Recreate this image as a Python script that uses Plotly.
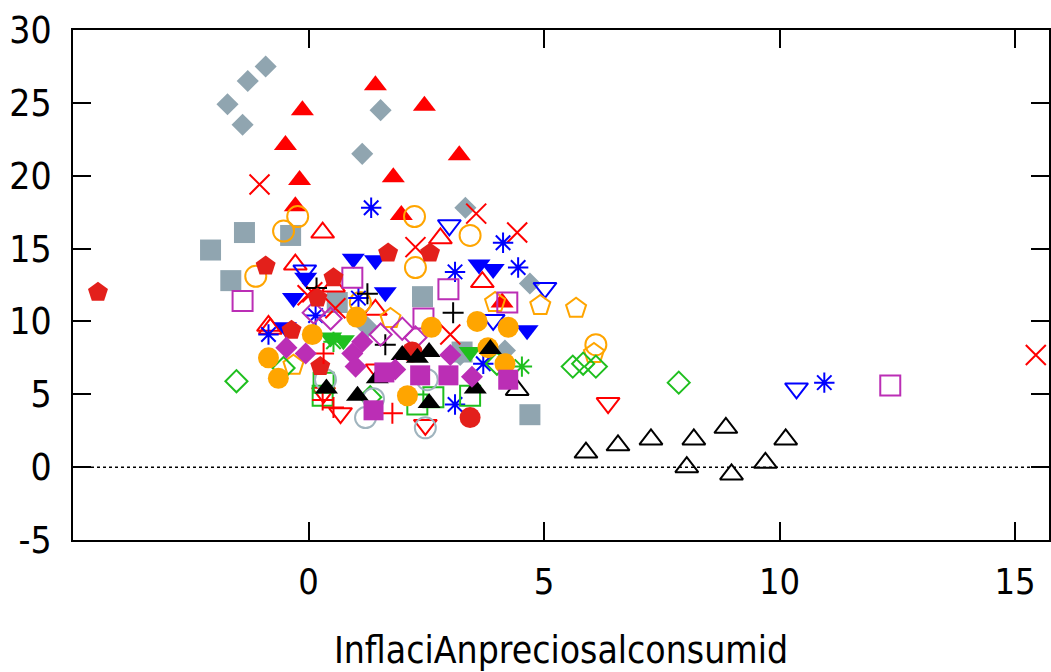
import plotly.graph_objects as go

# ---- data ----
gray_diamond_x = [-1.72, -1.29, -0.91, -1.40, 1.14, 1.53, 3.33, 4.70, 3.22, 1.25, 4.17]
gray_diamond_y = [24.9, 26.5, 27.5, 23.5, 21.5, 24.5, 17.8, 12.6, 7.7, 9.6, 8.0]

gray_square_x = [-2.08, -1.36, -0.38, -1.65, 0.61, 2.42, 3.26, 4.70]
gray_square_y = [14.9, 16.1, 15.9, 12.8, 11.3, 11.7, 7.9, 3.6]

red_tri_x = [1.42, -0.13, 2.46, -0.49, -0.19, 3.20, 1.80, -0.28, 1.97, 4.11]
red_tri_y = [26.2, 24.5, 24.8, 22.1, 19.7, 21.4, 19.9, 17.9, 17.3, 11.3]

red_x_x = [-1.04, 3.56, 4.43, 2.27, -0.02, 0.57, 3.01, 15.44, 0.08]
red_x_y = [19.4, 17.4, 16.1, 15.1, 11.8, 10.9, 9.1, 7.7, 12.0]

red_otri_x = [0.30, -0.28, 0.53, -0.85, 2.80, 3.69, 1.42, -0.81]
red_otri_y = [16.1, 13.9, 12.4, 9.7, 15.7, 12.7, 10.8, 9.5]

orange_ocirc_x = [-0.23, -0.53, 2.25, 3.43, -1.12, 2.27, 6.10, 1.10]
orange_ocirc_y = [17.2, 16.2, 17.2, 15.9, 13.1, 13.7, 8.4, 11.3]

blue_ast_x = [1.33, 4.13, 3.11, 4.45, 10.95, -0.85, 0.15, 1.06, 3.11, 3.71]
blue_ast_y = [17.8, 15.4, 13.4, 13.7, 5.8, 9.1, 10.4, 11.6, 4.3, 7.1]

blue_dtri_x = [0.95, 1.42, -0.06, -0.32, 1.63, 3.62, 3.92, 4.64, -0.49]
blue_dtri_y = [14.3, 14.2, 13.0, 11.6, 12.0, 13.9, 13.6, 9.4, 9.6]

blue_odtri_x = [-0.08, 2.99, 5.02, 10.36, 3.92]
blue_odtri_y = [13.5, 16.6, 12.3, 5.4, 10.1]

orange_opent_x = [5.68, 4.92, 6.06, 3.96, 1.74, -0.32]
orange_opent_y = [10.9, 11.1, 7.8, 11.3, 10.2, 7.0]

green_odiam_x = [-1.53, 5.61, 5.83, 6.10, 7.86, -0.53, 1.31, 4.00]
green_odiam_y = [5.9, 6.9, 7.1, 6.9, 5.8, 6.8, 4.8, 7.1]

black_otri_x = [5.89, 6.57, 7.27, 8.18, 8.86, 10.13, 8.03, 8.98, 9.70, 4.43]
black_otri_y = [1.0, 1.5, 1.9, 1.9, 2.7, 1.9, 0.0, -0.5, 0.3, 5.3]

red_odtri_x = [6.36, 2.48, 1.46, 0.68, 0.32]
red_odtri_y = [4.4, 2.9, 6.7, 3.7, 5.1]

mag_osq_x = [-1.40, 0.93, 2.97, 4.22, 2.44, 12.35]
mag_osq_y = [11.4, 13.0, 12.2, 11.3, 10.2, 5.6]

black_plus_x = [0.17, 1.25, 3.07, 1.63]
black_plus_y = [12.3, 11.9, 10.6, 8.4]

mag_odiam_x = [0.11, 0.47, 1.53, 1.99, 2.27]
mag_odiam_y = [10.6, 10.2, 9.1, 9.5, 8.9]

green_dtri_x = [0.47, 0.74, 3.43]
green_dtri_y = [8.9, 8.7, 7.9]

green_osq_x = [3.43, 2.65, 2.31, 0.32, 0.30]
green_osq_y = [4.9, 4.8, 4.3, 5.8, 4.9]

green_ast_x = [4.53, 0.53]
green_ast_y = [6.9, 8.6]

gray_ocirc_x = [1.21, 2.48, 0.36, 2.52, 1.38]
gray_ocirc_y = [3.4, 2.7, 6.0, 6.0, 4.7]

red_pent_x = [-4.47, -0.91, 0.53, 1.69, 2.58, -0.36, 0.25, 0.19]
red_pent_y = [12.0, 13.8, 13.0, 14.7, 14.7, 9.4, 6.9, 11.6]

red_circ_x = [3.43, 2.20]
red_circ_y = [3.4, 7.9]

red_plus_x = [1.78, 0.30, 0.53, 0.32]
red_plus_y = [3.7, 4.6, 4.1, 7.8]

orange_circ_x = [-0.85, -0.64, 0.08, 1.02, 2.61, 3.58, 4.24, 3.81, 4.17, 2.10]
orange_circ_y = [7.5, 6.1, 9.1, 10.3, 9.6, 10.0, 9.6, 8.2, 7.1, 4.9]

black_tri_x = [1.99, 2.31, 2.56, 3.86, 0.38, 1.04, 1.46, 2.56, 3.54]
black_tri_y = [7.7, 7.5, 7.9, 8.1, 5.4, 4.9, 6.1, 4.4, 5.4]

mag_diam_x = [-0.47, -0.06, 0.93, 1.14, 1.00, 1.84, 3.01, 3.47]
mag_diam_y = [8.2, 7.8, 7.8, 8.6, 6.9, 6.7, 7.7, 6.2]

mag_sq_x = [1.38, 4.24, 2.97, 2.37, 1.61]
mag_sq_y = [3.9, 6.0, 6.3, 6.3, 6.5]

x_ticks = [0, 5, 10, 15]
x_tick_text = ["0", "5", "10", "15"]
y_ticks = [-5, 0, 5, 10, 15, 20, 25, 30]
y_tick_text = ["-5", "0", "5", "10", "15", "20", "25", "30"]
x_title = "InflaciAnpreciosalconsumid"

GRAY = "#90a5b0"
RED = "#ff0000"
DRED = "#e3201b"
BLUE = "#0000ff"
ORANGE = "#ffa500"
GREEN = "#1fbf1f"
MAG = "#bb2eb5"
BLACK = "#000000"
GCIRC = "#a0b4be"

series = [
    (gray_diamond_x, gray_diamond_y, "diamond", GRAY, 17),
    (gray_square_x, gray_square_y, "square", GRAY, 21),
    (red_tri_x, red_tri_y, "triangle-up", RED, 20),
    (red_x_x, red_x_y, "x-thin-open", RED, 20),
    (red_otri_x, red_otri_y, "triangle-up-open", RED, 20),
    (orange_ocirc_x, orange_ocirc_y, "circle-open", ORANGE, 21),
    (blue_ast_x, blue_ast_y, "asterisk-open", BLUE, 17),
    (blue_dtri_x, blue_dtri_y, "triangle-down", BLUE, 20),
    (blue_odtri_x, blue_odtri_y, "triangle-down-open", BLUE, 20),
    (orange_opent_x, orange_opent_y, "pentagon-open", ORANGE, 21),
    (green_odiam_x, green_odiam_y, "diamond-open", GREEN, 17),
    (black_otri_x, black_otri_y, "triangle-up-open", BLACK, 20),
    (red_odtri_x, red_odtri_y, "triangle-down-open", RED, 20),
    (mag_osq_x, mag_osq_y, "square-open", MAG, 20),
    (black_plus_x, black_plus_y, "cross-thin-open", BLACK, 15),
    (mag_odiam_x, mag_odiam_y, "diamond-open", MAG, 17),
    (green_dtri_x, green_dtri_y, "triangle-down", GREEN, 20),
    (green_osq_x, green_osq_y, "square-open", GREEN, 20),
    (green_ast_x, green_ast_y, "asterisk-open", GREEN, 17),
    (gray_ocirc_x, gray_ocirc_y, "circle-open", GCIRC, 21),
    (red_pent_x, red_pent_y, "pentagon", DRED, 21),
    (red_circ_x, red_circ_y, "circle", DRED, 21),
    (red_plus_x, red_plus_y, "cross-thin-open", RED, 15),
    (orange_circ_x, orange_circ_y, "circle", ORANGE, 21),
    (black_tri_x, black_tri_y, "triangle-up", BLACK, 20),
    (mag_diam_x, mag_diam_y, "diamond", MAG, 17),
    (mag_sq_x, mag_sq_y, "square", MAG, 20),
]

fig = go.Figure()
for xs, ys, sym, col, sz in series:
    fig.add_trace(go.Scatter(
        x=xs, y=ys, mode="markers",
        marker=dict(symbol=sym, color=col, size=sz,
                    line=dict(color=col, width=2 if "open" in sym else 0)),
        showlegend=False, hoverinfo="skip"))

XMIN, XMAX = -5, 15.72
fig.add_shape(type="line", xref="paper", yref="y", x0=0, x1=1, y0=0, y1=0,
              line=dict(color="black", width=1.5, dash="dot"), layer="below")

FONT = "DejaVu Sans Condensed, DejaVu Sans, sans-serif"
fig.update_layout(
    width=1051, height=672,
    margin=dict(l=73, r=0, t=30, b=132),
    paper_bgcolor="white", plot_bgcolor="white",
    font=dict(family=FONT, color="black", size=36),
    xaxis=dict(range=[XMIN, XMAX], tickvals=x_ticks, ticktext=x_tick_text,
               ticks="inside", ticklen=18,
               tickwidth=1.5, tickcolor="black", showline=True, linecolor="black",
               linewidth=2, mirror="allticks", showgrid=False, zeroline=False,
               tickfont=dict(family=FONT, size=36), ticklabelstandoff=9,
               title=dict(text=x_title, font=dict(family=FONT, size=37), standoff=38)),
    yaxis=dict(range=[-5, 30], tickvals=y_ticks, ticktext=y_tick_text,
               ticks="inside", ticklen=18,
               tickwidth=1.5, tickcolor="black", showline=True, linecolor="black",
               linewidth=2, mirror="allticks", showgrid=False, zeroline=False,
               tickfont=dict(family=FONT, size=37), ticklabelstandoff=12),
)

fig.write_html("out.html")
